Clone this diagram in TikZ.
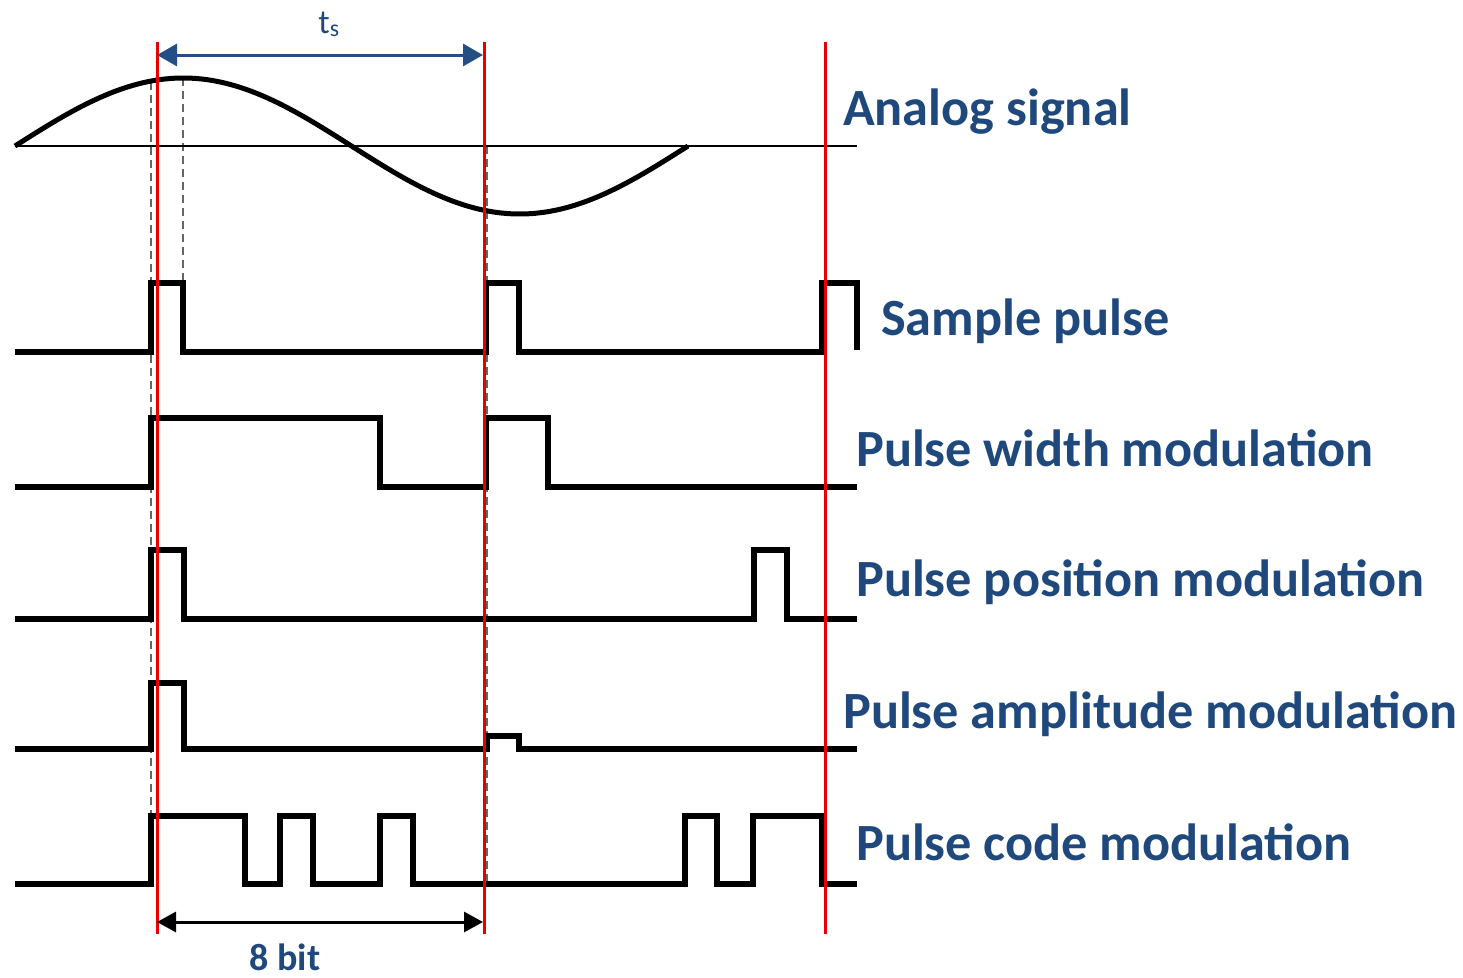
\documentclass[tikz,border=0pt]{standalone}
\usepackage{fontspec}
\setmainfont{Carlito}
\usetikzlibrary{arrows.meta}
\definecolor{lblue}{RGB}{31,73,125}
\definecolor{ablue}{RGB}{37,78,132}
\definecolor{sred}{RGB}{230,0,0}
\begin{document}
\begin{tikzpicture}[x=1pt,y=-1pt,
  sig/.style={line width=5.5pt, line join=miter, line cap=butt},
  axisline/.style={line width=2.5pt},
  redline/.style={line width=3pt, sred},
  dashline/.style={line width=1.5pt, gray!80!black, dash pattern=on 8pt off 5pt},
  lbl/.style={anchor=base west, inner sep=0pt, text=lblue, font=\bfseries\fontsize{52.3}{60}\selectfont},
  dimarrow/.style={line width=3pt, {Triangle[length=20pt,width=22pt]}-{Triangle[length=20pt,width=22pt]}}]
\useasboundingbox (0,0) rectangle (1463,977);

% named coordinates for the sampling instants
\coordinate (r1t) at (157,42);
\coordinate (r1b) at (157,934);
\coordinate (r2t) at (484,42);
\coordinate (r2b) at (484,934);
\coordinate (r3t) at (825,42);
\coordinate (r3b) at (825,934);

% dashed guides
\draw[dashline] (151,82) -- (151,816);
\draw[dashline] (183,78) -- (183,283);
\draw[dashline] (487,146) -- (487,884);

% analog signal
\draw[axisline] (15,146) -- (857,146);
\draw[sig, line width=5pt] plot[domain=15:688, samples=120, smooth] (\x,{146-68*sin(0.534918*(\x-15))});

% sample pulse
\draw[sig] (15,352) -- (151,352) -- (151,283) -- (183,283) -- (183,352)
  -- (486,352) -- (486,283) -- (519,283) -- (519,352)
  -- (822,352) -- (822,283) -- (857,283) -- (857,350);

% pulse width modulation
\draw[sig] (15,487) -- (151,487) -- (151,418) -- (380,418) -- (380,487)
  -- (486,487) -- (486,418) -- (548,418) -- (548,487) -- (857,487);

% pulse position modulation
\draw[sig] (15,619) -- (151,619) -- (151,550) -- (184,550) -- (184,619)
  -- (754,619) -- (754,550) -- (787,550) -- (787,619) -- (857,619);

% pulse amplitude modulation
\draw[sig] (15,749) -- (151,749) -- (151,683) -- (184,683) -- (184,749)
  -- (487,749) -- (487,736) -- (519,736) -- (519,749) -- (857,749);

% pulse code modulation
\draw[sig] (15,884) -- (151,884) -- (151,816) -- (245,816) -- (245,884)
  -- (280,884) -- (280,816) -- (313,816) -- (313,884)
  -- (380,884) -- (380,816) -- (413,816) -- (413,884)
  -- (685,884) -- (685,816) -- (717,816) -- (717,884)
  -- (753,884) -- (753,816) -- (822,816) -- (822,884) -- (857,884);

% red sampling lines
\draw[redline] (r1t) -- (r1b);
\draw[redline] (r2t) -- (r2b);
\draw[redline] (r3t) -- (r3b);

% dimension arrows
\coordinate (tsL) at (157,55);
\coordinate (tsR) at (483,55);
\draw[dimarrow, ablue] (tsL) -- (tsR);
\node[inner sep=0pt, anchor=base, text=lblue, font=\fontsize{34}{40}\selectfont] (ts) at (329,33) {t\textsubscript{s}};

\coordinate (bL) at (157,922);
\coordinate (bR) at (483,922);
\draw[dimarrow, black, {Triangle[length=19pt,width=20pt]}-{Triangle[length=19pt,width=20pt]}] (bL) -- (bR);
\node[inner sep=0pt, anchor=base, text=lblue, font=\bfseries\fontsize{38}{44}\selectfont] (eightbit) at (285,970) {8 bit};

% labels
\node[lbl] (analog) at (843,125) {Analog signal};
\node[lbl] (sample) at (881,335) {Sample pulse};
\node[lbl] (pwm) at (856,466) {Pulse width modulation};
\node[lbl] (ppm) at (856,596) {Pulse position modulation};
\node[lbl] (pam) at (843,728) {Pulse amplitude modulation};
\node[lbl] (pcm) at (856,860) {Pulse code modulation};
\end{tikzpicture}
\end{document}
